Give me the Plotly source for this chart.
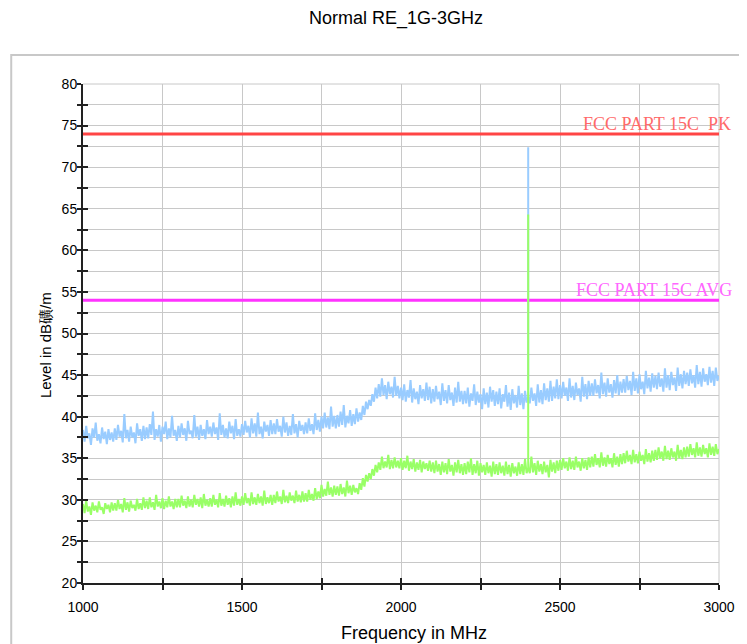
import plotly.graph_objects as go

# ---------------- data ----------------
F_START = 1000
F_STEP = 5

PEAK = [
    38.4, 37.0, 38.9, 37.4, 38.0, 36.6, 38.6, 37.5, 39.3, 37.1, 37.9, 36.8, 38.7, 37.3, 38.2, 36.7, 38.5, 37.2, 38.1, 37.0,
    38.6, 37.2, 39.0, 37.6, 38.3, 36.9, 40.3, 37.4, 38.4, 37.0, 38.8, 37.5, 38.1, 36.8, 39.2, 37.7, 38.5, 37.1, 38.9, 37.3,
    38.7, 37.4, 39.1, 37.8, 40.6, 37.2, 38.5, 37.6, 39.0, 37.0, 38.8, 37.9, 39.4, 37.3, 38.6, 37.5, 40.1, 37.7, 38.4, 37.1,
    38.9, 37.5, 39.2, 37.8, 38.6, 37.1, 39.5, 37.9, 38.3, 37.4, 40.2, 37.6, 38.8, 37.2, 39.0, 37.7, 38.5, 37.3, 39.6, 37.9,
    38.8, 37.6, 39.3, 37.9, 38.7, 37.2, 40.4, 37.8, 39.0, 37.5, 38.6, 37.4, 39.4, 38.0, 38.9, 37.3, 39.7, 37.7, 38.5, 37.6,
    39.1, 37.8, 39.5, 38.1, 38.9, 37.5, 39.8, 38.0, 39.2, 37.6, 40.5, 37.9, 38.8, 37.4, 39.4, 38.2, 39.0, 37.7, 39.6, 37.9,
    39.2, 37.9, 39.7, 38.2, 38.9, 37.6, 40.0, 38.1, 39.3, 37.7, 38.9, 37.8, 40.3, 38.0, 39.1, 37.5, 39.5, 38.3, 39.0, 37.9,
    39.3, 38.0, 39.8, 38.3, 39.1, 37.9, 40.4, 38.4, 39.6, 38.2, 40.0, 38.6, 40.5, 38.7, 39.9, 38.5, 41.2, 38.8, 40.1, 38.6,
    40.2, 38.8, 40.6, 39.0, 41.4, 38.7, 40.1, 39.2, 40.8, 38.9, 40.3, 39.1, 41.0, 39.4, 40.5, 39.6, 41.3, 40.2, 41.8, 40.9,
    42.0, 41.3, 42.7, 41.8, 43.5, 42.2, 43.9, 42.4, 44.6, 42.6, 43.8, 42.1, 44.2, 42.7, 43.6, 42.3, 44.8, 42.5, 43.7, 42.2,
    43.5, 42.0, 43.9, 41.8, 43.2, 42.3, 44.4, 41.7, 43.4, 42.1, 43.0, 41.5, 43.8, 42.2, 43.3, 41.9, 44.1, 42.0, 43.6, 41.6,
    43.3, 41.8, 43.7, 42.1, 43.0, 41.4, 44.0, 41.9, 43.2, 41.6, 43.8, 42.0, 42.9, 41.3, 43.5, 41.7, 44.2, 41.8, 43.1, 41.5,
    43.1, 41.6, 43.5, 41.2, 42.8, 41.9, 43.9, 41.4, 43.0, 41.7, 42.7, 40.9, 43.4, 41.5, 42.9, 41.1, 43.6, 41.8, 43.2, 41.3,
    43.0, 41.5, 43.4, 41.0, 42.7, 41.8, 43.8, 41.2, 42.9, 40.8, 43.3, 41.6, 42.6, 41.1, 43.7, 41.4, 42.8, 40.9, 43.1, 41.7,
    42.4, 41.6, 43.5, 41.9, 42.8, 41.3, 43.9, 41.7, 43.2, 41.5, 44.0, 42.0, 43.4, 41.8, 44.3, 41.9, 43.6, 42.2, 44.5, 42.1,
    43.8, 42.2, 44.2, 42.5, 43.5, 41.9, 44.6, 42.3, 43.7, 42.0, 44.1, 42.6, 43.4, 41.8, 44.8, 42.4, 43.9, 42.1, 44.3, 42.5,
    44.0, 42.5, 44.5, 42.8, 43.8, 42.2, 45.3, 42.7, 44.1, 42.4, 44.6, 42.9, 43.9, 42.3, 44.4, 42.8, 45.0, 42.6, 44.2, 42.9,
    44.5, 42.9, 44.9, 43.2, 44.3, 42.6, 45.4, 43.1, 44.6, 42.8, 45.1, 43.3, 44.2, 42.7, 45.5, 43.4, 44.7, 43.0, 45.2, 43.5,
    44.9, 43.3, 45.3, 43.6, 44.6, 43.0, 45.8, 43.5, 45.0, 43.2, 45.4, 43.8, 44.7, 43.1, 45.9, 43.7, 45.1, 43.4, 45.5, 43.9,
    45.3, 43.7, 45.7, 44.0, 45.0, 43.5, 46.2, 43.9, 45.4, 43.6, 45.8, 44.2, 45.1, 43.8, 46.0, 44.1, 45.5, 43.7, 45.9, 44.3,
    44.9,
]

AVG = [
    29.5, 28.4, 29.9, 28.6, 29.2, 28.2, 29.7, 28.7, 29.3, 28.5, 29.8, 28.8, 29.1, 28.3, 29.6, 28.9, 29.4, 28.5, 29.7, 28.7,
    29.6, 28.7, 30.0, 28.9, 29.5, 28.5, 30.2, 28.8, 29.7, 28.6, 29.9, 29.0, 29.4, 28.7, 30.1, 28.9, 29.6, 28.8, 30.3, 29.0,
    29.9, 28.9, 30.3, 29.1, 29.7, 28.8, 30.6, 29.2, 29.8, 29.0, 30.2, 28.9, 29.9, 29.1, 30.4, 29.2, 29.8, 28.9, 30.1, 29.1,
    30.1, 29.1, 30.5, 29.3, 29.9, 29.0, 30.4, 29.2, 30.0, 29.1, 30.6, 29.4, 30.1, 29.2, 30.3, 29.0, 30.7, 29.3, 30.0, 29.2,
    30.2, 29.2, 30.6, 29.4, 30.0, 29.1, 30.8, 29.3, 30.1, 29.2, 30.5, 29.4, 30.2, 29.1, 30.4, 29.3, 30.9, 29.4, 30.1, 29.3,
    30.4, 29.4, 30.8, 29.6, 30.2, 29.3, 30.9, 29.5, 30.3, 29.4, 30.7, 29.6, 30.4, 29.3, 31.1, 29.5, 30.3, 29.6, 30.6, 29.4,
    30.6, 29.6, 31.0, 29.8, 30.4, 29.5, 31.2, 29.7, 30.5, 29.6, 30.9, 29.9, 30.5, 29.6, 31.1, 29.8, 30.6, 29.7, 31.0, 29.8,
    30.8, 29.8, 31.2, 30.0, 30.7, 29.9, 31.4, 30.1, 31.0, 30.2, 31.8, 30.4, 31.3, 30.5, 32.2, 30.6, 31.5, 30.4, 31.7, 30.6,
    31.6, 30.5, 31.9, 30.7, 31.5, 30.4, 32.3, 30.8, 31.7, 30.6, 31.8, 30.9, 31.4, 30.7, 32.0, 31.2, 32.6, 31.6, 33.0, 32.2,
    33.2, 32.5, 33.7, 32.9, 34.2, 33.3, 34.5, 33.6, 35.2, 33.8, 34.6, 33.9, 35.4, 33.7, 34.8, 33.8, 35.1, 33.9, 34.7, 33.8,
    35.0, 33.6, 34.7, 33.8, 35.3, 33.5, 34.6, 33.7, 34.9, 33.4, 34.5, 33.6, 34.8, 33.3, 34.6, 33.7, 34.4, 33.5, 34.7, 33.4,
    34.5, 33.2, 34.7, 33.4, 34.3, 33.0, 34.6, 33.3, 34.4, 33.1, 34.9, 33.4, 34.2, 32.9, 34.5, 33.3, 34.8, 33.2, 34.3, 33.0,
    34.4, 33.1, 34.6, 33.3, 35.0, 33.0, 34.3, 33.2, 34.7, 32.9, 34.4, 33.3, 34.2, 33.0, 34.5, 33.2, 34.1, 32.8, 34.6, 33.1,
    34.3, 33.0, 34.5, 33.2, 34.1, 32.9, 34.6, 33.1, 34.2, 32.8, 34.4, 33.2, 34.0, 32.9, 34.5, 33.1, 34.3, 33.0, 34.9, 33.2,
    33.9, 33.2, 35.2, 33.3, 34.4, 33.0, 34.7, 33.4, 34.3, 33.1, 34.6, 33.3, 34.2, 32.7, 34.8, 33.4, 34.5, 33.2, 34.7, 33.5,
    34.8, 33.6, 35.0, 33.8, 34.6, 33.5, 35.1, 33.7, 34.7, 33.6, 35.2, 33.9, 34.6, 33.5, 35.0, 33.8, 34.8, 33.6, 35.1, 33.9,
    35.2, 34.0, 35.5, 34.2, 35.0, 33.9, 35.7, 34.1, 35.1, 34.0, 35.4, 34.3, 35.0, 33.9, 35.6, 34.2, 35.2, 34.0, 35.5, 34.3,
    35.6, 34.4, 35.9, 34.6, 35.4, 34.3, 36.0, 34.5, 35.5, 34.4, 35.8, 34.7, 35.4, 34.3, 36.1, 34.6, 35.6, 34.5, 35.9, 34.7,
    36.0, 34.8, 36.3, 35.0, 35.8, 34.7, 36.5, 34.9, 35.9, 34.8, 36.2, 35.1, 35.8, 34.7, 36.6, 35.0, 36.0, 34.9, 36.3, 35.1,
    36.4, 35.2, 36.7, 35.4, 36.2, 35.1, 36.9, 35.3, 36.3, 35.2, 36.6, 35.5, 36.2, 35.1, 36.8, 35.4, 36.4, 35.3, 36.7, 35.5,
    36.1,
]

SPIKE_FREQ = 2400
PEAK_SPIKE = 72.4
AVG_SPIKE = 64.3

PK_LIMIT = 74
AVG_LIMIT = 54
LIMIT_FREQS = [1000, 3000]

X_TICKS = [1000, 1250, 1500, 1750, 2000, 2250, 2500, 2750, 3000]
X_LABELS = ["1000", "", "1500", "", "2000", "", "2500", "", "3000"]
Y_TICKS = [20, 22.5, 25, 27.5, 30, 32.5, 35, 37.5, 40, 42.5, 45, 47.5, 50, 52.5,
           55, 57.5, 60, 62.5, 65, 67.5, 70, 72.5, 75, 77.5, 80]
Y_LABELS = [str(int(v)) if v % 5 == 0 else "" for v in Y_TICKS]

TITLE = "Normal RE_1G-3GHz"
X_TITLE = "Frequency in MHz"
Y_TITLE = "Level in dB礦/m"
PK_LABEL = "FCC PART 15C\u00a0\u00a0PK"
AVG_LABEL = "FCC PART 15C AVG"

# ---------------- build ----------------
FREQ = [F_START + F_STEP * i for i in range(len(PEAK))]
k = FREQ.index(SPIKE_FREQ)
xs = FREQ[:k + 1] + [SPIKE_FREQ, SPIKE_FREQ] + FREQ[k + 1:]
pk = PEAK[:k + 1] + [PEAK_SPIKE, PEAK[k]] + PEAK[k + 1:]
av = AVG[:k + 1] + [AVG_SPIKE, AVG[k]] + AVG[k + 1:]

FONT = "Liberation Sans, Arial, sans-serif"
RED = "#FF4545"
MAG = "#FF33FF"
BLUE = "#99CCFF"
GREEN = "#99FF66"

OFF = 8  # browser body margin
W, H = 739, 636
L, T = 75, 76
PW, PH = 638, 499
R, B = W - L - PW, H - T - PH


def px(xp):
    return (xp - OFF - L) / PW


def py(yp):
    return (T + PH - (yp - OFF)) / PH


fig = go.Figure()
fig.add_trace(go.Scatter(x=LIMIT_FREQS, y=[PK_LIMIT] * 2, mode="lines",
                         line=dict(color=RED, width=3), hoverinfo="skip"))
fig.add_trace(go.Scatter(x=LIMIT_FREQS, y=[AVG_LIMIT] * 2, mode="lines",
                         line=dict(color=MAG, width=3), hoverinfo="skip"))
fig.add_trace(go.Scatter(x=xs, y=pk, mode="lines",
                         line=dict(color=BLUE, width=2)))
fig.add_trace(go.Scatter(x=xs, y=av, mode="lines",
                         line=dict(color=GREEN, width=2)))
# helper (invisible) trace to activate overlay axes for inward ticks
fig.add_trace(go.Scatter(x=LIMIT_FREQS, y=[PK_LIMIT] * 2, mode="lines",
                         line=dict(width=0), opacity=0, xaxis="x2", yaxis="y2",
                         hoverinfo="skip"))

fig.update_layout(
    width=W, height=H,
    margin=dict(l=L, r=R, t=T, b=B, pad=0),
    paper_bgcolor="white", plot_bgcolor="white",
    showlegend=False,
    font=dict(family=FONT, size=14, color="black"),
    xaxis=dict(range=[1000, 3000], tickmode="array", tickvals=X_TICKS, ticktext=X_LABELS,
               showgrid=True, gridcolor="#C8C8C8", gridwidth=1, zeroline=False,
               showline=True, linecolor="#222222", linewidth=2,
               ticks="outside", ticklen=5, tickwidth=1.5, tickcolor="#222222",
               ticklabelstandoff=5,
               tickfont=dict(family=FONT, size=14, color="black")),
    yaxis=dict(range=[20, 80], tickmode="array", tickvals=Y_TICKS, ticktext=Y_LABELS,
               showgrid=True, gridcolor="#C8C8C8", gridwidth=1, zeroline=False,
               showline=True, linecolor="#222222", linewidth=2,
               ticks="outside", ticklen=4, tickwidth=1.5, tickcolor="#222222",
               ticklabelstandoff=-3,
               tickfont=dict(family=FONT, size=14, color="black")),
    xaxis2=dict(range=[1000, 3000], overlaying="x", anchor="y2", side="bottom",
                tickmode="array", tickvals=X_TICKS, showticklabels=False,
                showgrid=False, zeroline=False, showline=False,
                ticks="inside", ticklen=5, tickwidth=1.5, tickcolor="#222222"),
    yaxis2=dict(range=[20, 80], overlaying="y", anchor="x2", side="left",
                tickmode="array", tickvals=Y_TICKS, showticklabels=False,
                showgrid=False, zeroline=False, showline=False,
                ticks="inside", ticklen=5, tickwidth=1.5, tickcolor="#222222"),
)

# outer frame
fig.add_shape(type="rect", xref="paper", yref="paper",
              x0=px(11), x1=px(770), y0=py(55), y1=py(680),
              line=dict(color="#C8C8C8", width=2), fillcolor="rgba(0,0,0,0)", layer="below")
# top / right plot borders
fig.add_shape(type="line", xref="paper", yref="paper", x0=0, x1=1, y0=1, y1=1,
              line=dict(color="#C8C8C8", width=1), layer="below")
fig.add_shape(type="line", xref="paper", yref="paper", x0=1, x1=1, y0=0, y1=1,
              line=dict(color="#C8C8C8", width=1), layer="below")

ann = [
    dict(text=TITLE, x=px(397), y=py(18), xref="paper", yref="paper",
         xanchor="center", yanchor="middle", showarrow=False,
         font=dict(family=FONT, size=18, color="black")),
    dict(text=X_TITLE, x=px(415.5), y=py(633), xref="paper", yref="paper",
         xanchor="center", yanchor="middle", showarrow=False,
         font=dict(family=FONT, size=18, color="black")),
    dict(text=Y_TITLE, x=px(45), y=py(345), xref="paper", yref="paper",
         xanchor="center", yanchor="middle", showarrow=False, textangle=-90,
         font=dict(family=FONT, size=15, color="black")),
    dict(text=PK_LABEL, x=px(583), y=PK_LIMIT, xref="paper", yref="y",
         xanchor="left", yanchor="bottom", showarrow=False, yshift=-2,
         font=dict(family="Liberation Serif, serif", size=18, color="#FF6A6A")),
    dict(text=AVG_LABEL, x=px(576), y=AVG_LIMIT, xref="paper", yref="y",
         xanchor="left", yanchor="bottom", showarrow=False, yshift=-2,
         font=dict(family="Liberation Serif, serif", size=18, color="#FF66FF")),
]
fig.update_layout(annotations=ann)

fig.write_html("out.html")
